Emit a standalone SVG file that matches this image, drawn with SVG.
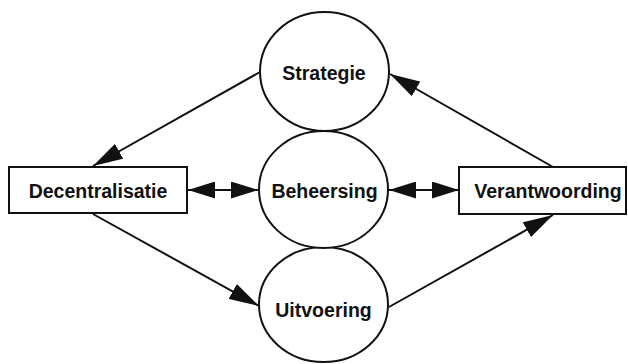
<svg xmlns="http://www.w3.org/2000/svg" width="628" height="364" viewBox="0 0 628 364">
<style>
.shape{fill:#ffffff;stroke:#111111;stroke-width:2}
.lbl{font-family:"Liberation Sans",Arial,sans-serif;font-weight:bold;font-size:19.5px;fill:#111111;text-anchor:middle}
.con{stroke:#111111;stroke-width:2;fill:none}
</style>
<defs>
<marker id="ah" viewBox="0 0 27 17" refX="27" refY="8.5" markerWidth="27" markerHeight="17" markerUnits="userSpaceOnUse" orient="auto-start-reverse">
<path d="M0,0 L27,8.5 L0,17 Z" fill="#111111"/>
</marker>
<marker id="ahd" viewBox="0 0 30 17" refX="30" refY="8.5" markerWidth="30" markerHeight="17" markerUnits="userSpaceOnUse" orient="auto">
<path d="M0,0 L30,8.5 L0,17 Z" fill="#111111"/>
</marker>
</defs>
<rect width="628" height="364" fill="#ffffff"/>
<g id="connectors">
<line class="con" x1="260" y1="72" x2="93" y2="166" marker-end="url(#ahd)"/>
<line class="con" x1="93" y1="214" x2="259" y2="306" marker-end="url(#ahd)"/>
<line class="con" x1="389" y1="307" x2="553" y2="215" marker-end="url(#ahd)"/>
<line class="con" x1="553" y1="167" x2="390" y2="74" marker-end="url(#ahd)"/>
<line class="con" x1="188" y1="190" x2="258" y2="190" marker-start="url(#ah)" marker-end="url(#ah)"/>
<line class="con" x1="389" y1="190" x2="459" y2="190" marker-start="url(#ah)" marker-end="url(#ah)"/>
</g>
<g id="strategie">
<ellipse class="shape" cx="324.5" cy="71.5" rx="64.5" ry="59.5"/>
<text class="lbl" x="324" y="80">Strategie</text>
</g>
<g id="uitvoering">
<ellipse class="shape" cx="323.5" cy="304.5" rx="64.5" ry="57.5"/>
<text class="lbl" x="323.5" y="317">Uitvoering</text>
</g>
<g id="beheersing">
<ellipse class="shape" cx="323.5" cy="189.5" rx="64.5" ry="58.5"/>
<text class="lbl" x="324.5" y="198">Beheersing</text>
</g>
<g id="decentralisatie">
<rect class="shape" x="9" y="167" width="178" height="46"/>
<text class="lbl" x="98" y="198">Decentralisatie</text>
</g>
<g id="verantwoording">
<rect class="shape" x="459" y="167" width="167" height="47"/>
<text class="lbl" x="548" y="198">Verantwoording</text>
</g>
</svg>
